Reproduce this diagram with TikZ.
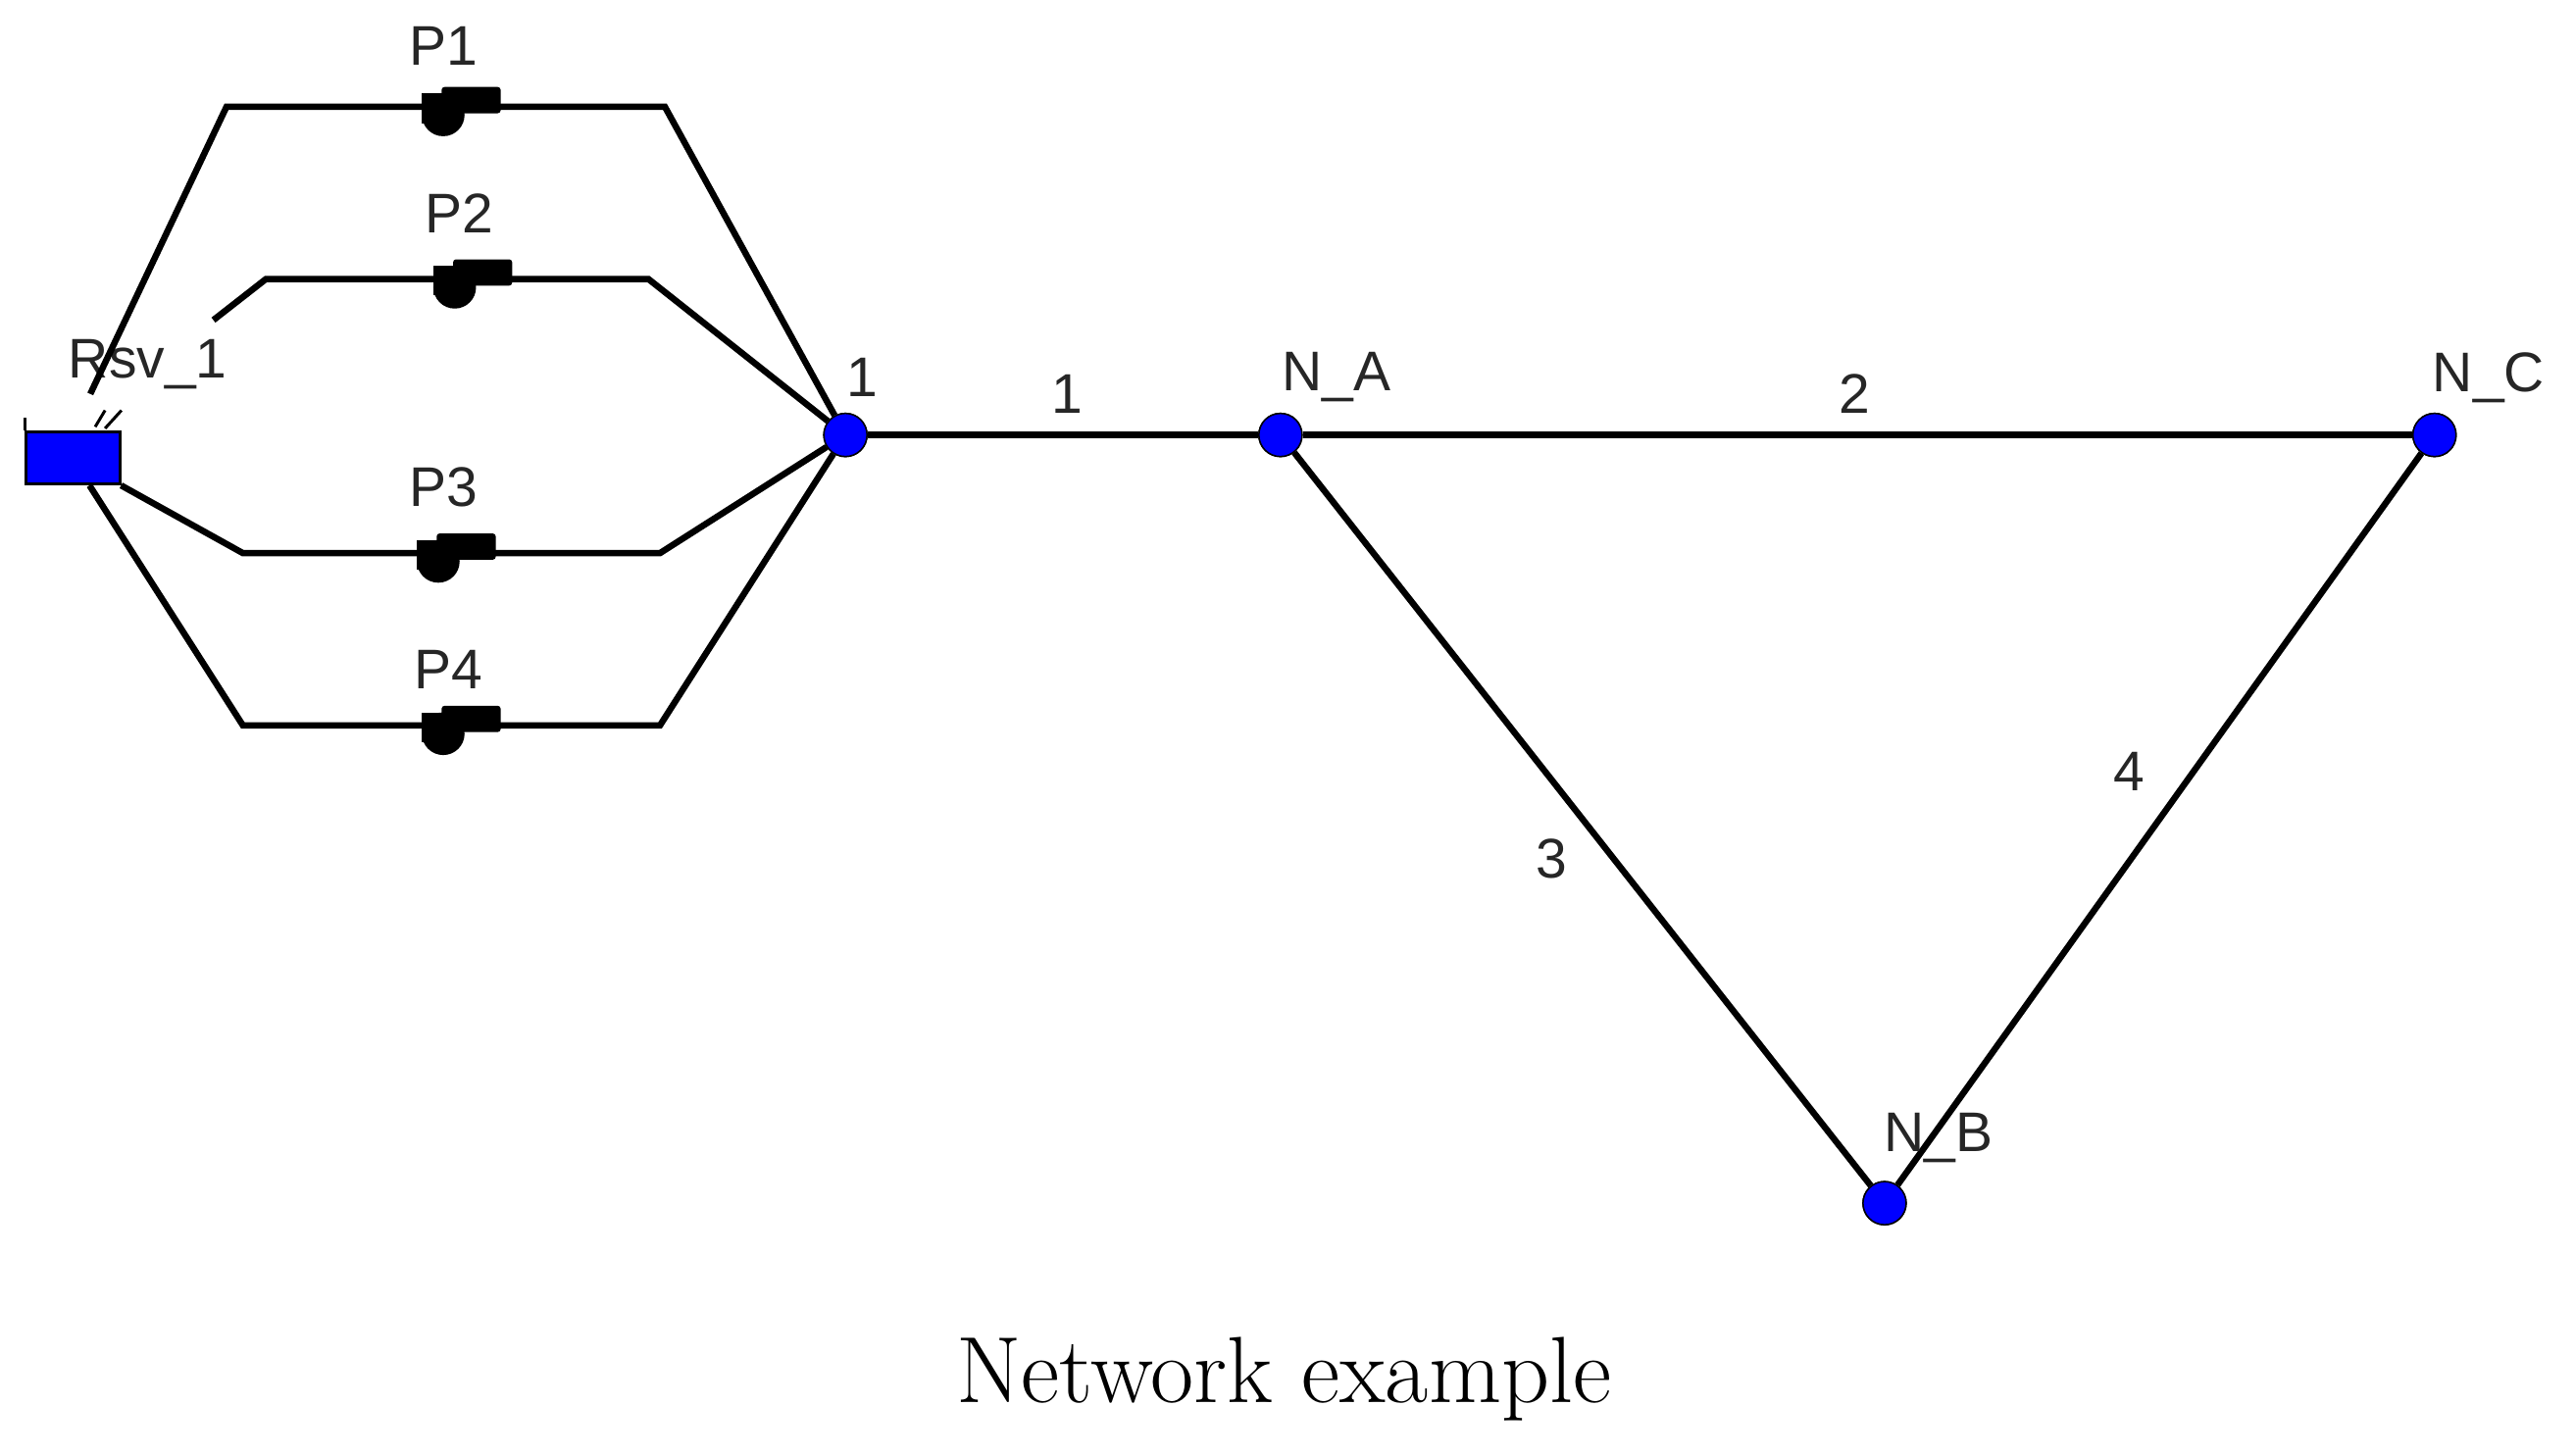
\documentclass[tikz,border=0pt]{standalone}
\usepackage{fontspec}
\setmainfont{Latin Modern Roman}
\newfontfamily\lab{Liberation Sans}
\begin{document}
\begin{tikzpicture}[x=1.674pt,y=-1.674pt,
  pipe/.style={line width=6.5pt},
  junc/.style={circle,fill=blue,draw=black,line width=1.5pt,minimum size=44pt,inner sep=0pt},
  lbl/.style={font=\lab\fontsize{57}{62}\selectfont,text=black!85,inner sep=0pt},
  pump/.pic={\fill (-13,5) circle [radius=13]; \fill[rounded corners=3pt] (-14,-12) rectangle (22,4); \fill (-26,10) rectangle (-4,-8);}]
\useasboundingbox (0,0) rectangle (1568,886.5);
% reservoir
\node[fill=blue,draw=black,line width=3pt,minimum width=95pt,minimum height=53pt,inner sep=0pt] (R) at (44.5,279) {};
\draw[line width=3pt] (R.north west) -- ++(0,-8);
\draw[line width=3pt] (58,260) -- (64,250) (64,261) -- (74,250);
\node[lbl] at (90,222) {Rsv\_1};
% junctions
\node[junc] (J1) at (515,265) {};
\node[junc] (NA) at (780,265) {};
\node[junc] (NC) at (1483,265) {};
\node[junc] (NB) at (1148,733) {};
% pump pipes
\coordinate (a1) at (55,240); \coordinate (a2) at (130,195);
\draw[pipe] (a1) -- (138,65) -- (405,65) -- (J1);
\draw[pipe] (a2) -- (162,170) -- (395,170) -- (J1);
\draw[pipe] (R.south east) -- (148,337) -- (402,337) -- (J1);
\draw[pipe] (R.south) ++(10,0) -- (148,442) -- (402,442) -- (J1);
\pic at (283,65) {pump}; \pic at (290,170) {pump};
\pic at (280,337) {pump}; \pic at (283,442) {pump};
\node[lbl] at (270,28) {P1};
\node[lbl] at (280,130) {P2};
\node[lbl] at (270,297) {P3};
\node[lbl] at (273,408) {P4};
% main pipes
\draw[pipe] (J1) -- (NA);
\draw[pipe] (NA) -- (NC);
\draw[pipe] (NA) -- (NB);
\draw[pipe] (NB) -- (NC);
\node[junc] at (J1) {}; \node[junc] at (NA) {}; \node[junc] at (NC) {}; \node[junc] at (NB) {};
% labels
\node[lbl] at (525,230) {1};
\node[lbl] at (650,240) {1};
\node[lbl] at (814,230) {N\_A};
\node[lbl] at (1130,240) {2};
\node[lbl] at (1516,230) {N\_C};
\node[lbl] at (945,523) {3};
\node[lbl] at (1297,470) {4};
\node[lbl] at (1181,693) {N\_B};
\node[font=\fontsize{96}{106}\selectfont] at (782,840) {Network example};
\end{tikzpicture}
\end{document}
